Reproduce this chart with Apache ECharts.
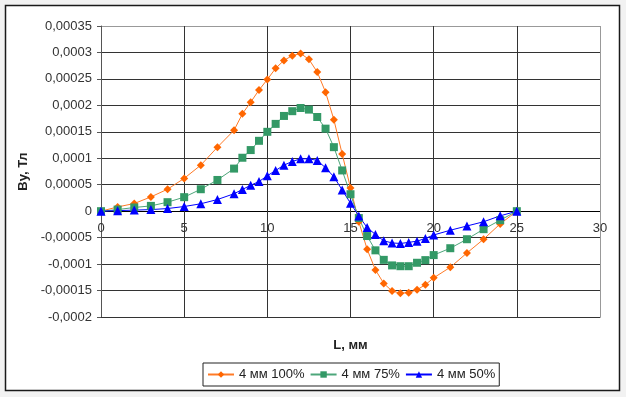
<!DOCTYPE html>
<html>
<head>
<meta charset="utf-8">
<script src="https://cdn.jsdelivr.net/npm/echarts@6/dist/echarts.min.js"></script>
<style>
  html, body { margin: 0; padding: 0; background: #f2f2f2; }
  #main { width: 626px; height: 397px; }
</style>
</head>
<body>
<div id="main"></div>
<script>
// L, мм
var xs = [0, 1, 2, 3, 4, 5, 6, 7, 8, 8.5, 9, 9.5, 10, 10.5, 11, 11.5, 12, 12.5, 13, 13.5,
  14, 14.5, 15, 15.5, 16, 16.5, 17, 17.5, 18, 18.5, 19, 19.5, 20, 21, 22, 23, 24, 25];

// By, Тл
var by100 = [0, 0.000008, 0.0000145, 0.000027, 0.0000415, 0.000062, 0.000087, 0.000121, 0.000153,
  0.000184, 0.000206, 0.000229, 0.000249, 0.00027, 0.000285, 0.000294, 0.000298, 0.000287,
  0.000263, 0.000225, 0.000173, 0.000108, 0.000044, -0.00002, -0.000072, -0.000111,
  -0.0001365, -0.000151, -0.000155, -0.000154, -0.0001485, -0.000139, -0.000126, -0.000106,
  -0.000079, -0.000053, -0.000024, 0];
var by75 = [0, 0.000003, 0.000007, 0.00001, 0.000017, 0.0000265, 0.0000415, 0.000059, 0.0000805,
  0.000101, 0.0001155, 0.000133, 0.00015, 0.000165, 0.00018, 0.000189, 0.000195, 0.000192,
  0.000178, 0.000156, 0.000121, 0.000077, 0.000032, -0.000013, -0.000047, -0.000074,
  -0.000092, -0.0001025, -0.000104, -0.000104, -0.0000975, -0.0000925, -0.000083, -0.00007,
  -0.000053, -0.000034, -0.000017, 0];
var by50 = [0, 0.000001, 0.000002, 0.000003, 0.000005, 0.0000088, 0.000014, 0.000022, 0.000033,
  0.000041, 0.000049, 0.000056, 0.000067, 0.000077, 0.000087, 0.000094, 0.000099, 0.000099,
  0.000096, 0.000082, 0.000065, 0.00004, 0.000015, -0.000009, -0.000031, -0.000044,
  -0.000056, -0.00006, -0.000061, -0.000059, -0.0000566, -0.0000515, -0.000045, -0.000036,
  -0.000028, -0.00002, -0.0000088, 0];

var names = ['4 мм 100%', '4 мм 75%', '4 мм 50%'];

function pairs(ys) {
  return xs.map(function (x, i) { return [x, ys[i]]; });
}
function comma(v) {
  return String(Number(v.toFixed(7))).replace('.', ',');
}

var font = "'Liberation Sans', Arial, sans-serif";
// horizontal grid lines, bottom to top; zero line darker, top edge lighter
var gridColorsY = ['#333', '#333', '#333', '#333', '#000', '#333', '#333', '#333', '#333', '#333', '#333', '#999'];
var gridColorsX = ['#333', '#333', '#333', '#333', '#333', '#333', '#999'];

var myChart = echarts.init(document.getElementById('main'));
var option = {
  backgroundColor: '#f2f2f2',
  animation: false,
  textStyle: { fontFamily: font },
  graphic: [{
    type: 'rect',
    z: -10,
    shape: { x: 5.5, y: 5.5, width: 614, height: 385 },
    style: { fill: '#fff', stroke: '#1a1a1a', lineWidth: 1.5 }
  }],
  grid: { left: 101, right: 26, top: 26, bottom: 80, containLabel: false, outerBoundsMode: 'none' },
  legend: {
    data: names,
    left: 203,
    top: 363,
    padding: [5, 4, 5, 4],
    itemGap: 5,
    itemWidth: 26,
    itemHeight: 8,
    borderColor: '#222',
    borderWidth: 1,
    backgroundColor: '#fff',
    textStyle: { fontSize: 13, color: '#222', fontFamily: font }
  },
  xAxis: {
    type: 'value',
    min: 0,
    max: 30,
    interval: 5,
    name: 'L, мм',
    nameLocation: 'middle',
    nameGap: 22,
    nameTextStyle: { fontSize: 13, fontWeight: 'bold', color: '#222', fontFamily: font },
    axisLine: { onZero: false, lineStyle: { color: '#333', width: 1 } },
    axisTick: { show: false },
    // tick labels sit just under the zero line, as in the original
    axisLabel: { fontSize: 13, color: '#333', margin: -95, fontFamily: font },
    splitLine: { show: true, lineStyle: { color: gridColorsX, width: 1 } }
  },
  yAxis: {
    type: 'value',
    min: -0.0002,
    max: 0.00035,
    interval: 0.00005,
    name: 'By, Тл',
    nameLocation: 'middle',
    nameGap: 57,
    nameTextStyle: { fontSize: 13, fontWeight: 'bold', color: '#222', fontFamily: font },
    axisLine: { show: true, lineStyle: { color: '#555', width: 1 } },
    axisTick: { show: true, length: 4, lineStyle: { color: '#555' } },
    axisLabel: { fontSize: 13, color: '#333', margin: 9, fontFamily: font, formatter: comma },
    splitLine: { show: true, lineStyle: { color: gridColorsY, width: 1 } }
  },
  series: [
    {
      name: names[0], type: 'line', data: pairs(by100),
      symbol: 'diamond', symbolSize: 8,
      itemStyle: { color: '#ff6600' },
      lineStyle: { color: '#ff7a26', width: 1 }
    },
    {
      name: names[1], type: 'line', data: pairs(by75),
      symbol: 'rect', symbolSize: 8,
      itemStyle: { color: '#339966' },
      lineStyle: { color: '#4da67a', width: 1 }
    },
    {
      name: names[2], type: 'line', data: pairs(by50),
      symbol: 'triangle', symbolSize: 9,
      itemStyle: { color: '#0000ff' },
      lineStyle: { color: '#0000ff', width: 1 }
    }
  ]
};
myChart.setOption(option);
</script>
</body>
</html>
